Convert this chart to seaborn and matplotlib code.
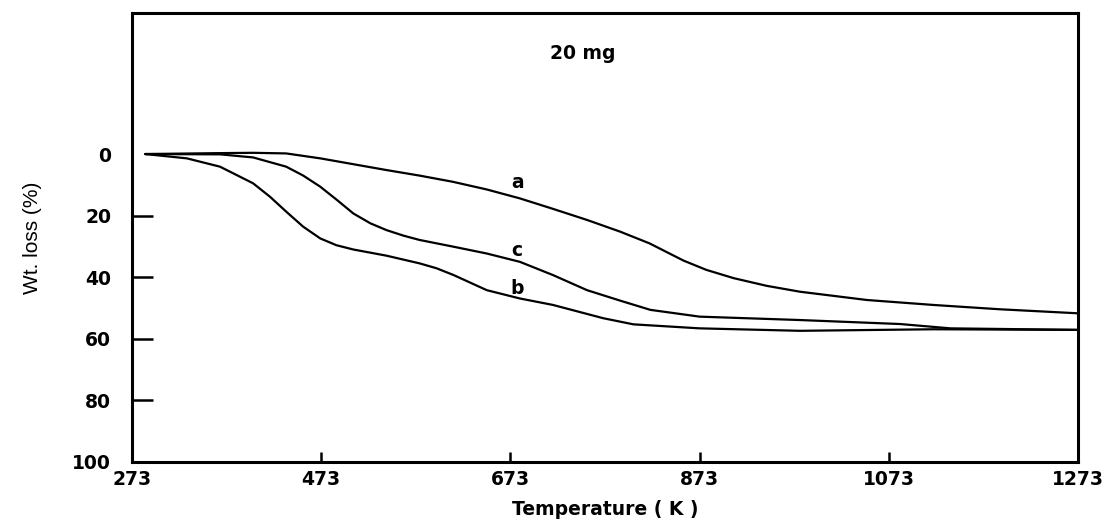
import matplotlib
matplotlib.use("Agg")
import matplotlib.pyplot as plt
import seaborn as sns
import pandas as pd

# ---- data ----
temp_a = [287, 366, 401, 436, 472, 507, 542, 577, 612, 648, 683, 718, 754, 789, 820, 838, 856, 880, 909, 944, 979, 1050, 1120, 1190, 1272]
loss_a = [0.0, -0.3, -0.4, -0.2, 1.4, 3.3, 5.2, 7.0, 9.0, 11.5, 14.4, 17.8, 21.4, 25.2, 29.0, 31.8, 34.6, 37.6, 40.3, 42.8, 44.7, 47.4, 49.0, 50.4, 51.7]

temp_c = [287, 366, 401, 436, 454, 472, 490, 507, 525, 542, 560, 577, 613, 648, 683, 718, 754, 789, 821, 873, 979, 1085, 1138, 1272]
loss_c = [0.0, 0.1, 1.1, 4.1, 7.0, 10.6, 15.0, 19.3, 22.5, 24.7, 26.5, 27.9, 30.1, 32.3, 35.0, 39.3, 44.2, 47.6, 50.6, 52.8, 53.9, 55.2, 56.6, 57.1]

temp_b = [287, 331, 366, 401, 419, 436, 454, 472, 489, 507, 542, 577, 595, 613, 648, 683, 718, 771, 803, 873, 979, 1120, 1272]
loss_b = [0.0, 1.4, 4.1, 9.5, 13.9, 18.7, 23.6, 27.4, 29.6, 31.0, 33.0, 35.5, 37.1, 39.3, 44.2, 46.9, 49.0, 53.3, 55.3, 56.6, 57.4, 56.9, 57.1]

curve_names = ["a", "b", "c"]
label_pos_T = [681, 680, 680]
label_pos_W = [9.1, 43.5, 31.2]

x_ticks = [273, 473, 673, 873, 1073, 1273]
y_ticks = [0, 20, 40, 60, 80, 100]

title_text = "20 mg"
x_label = "Temperature ( K )"
y_label = "Wt. loss (%)"

df = pd.concat([
    pd.DataFrame({"T": temp_a, "W": loss_a, "curve": "a"}),
    pd.DataFrame({"T": temp_b, "W": loss_b, "curve": "b"}),
    pd.DataFrame({"T": temp_c, "W": loss_c, "curve": "c"}),
], ignore_index=True)

sns.set_style("white")
plt.rcParams["font.family"] = ["DejaVu Sans"]
plt.rcParams["text.color"] = "black"
plt.rcParams["axes.labelcolor"] = "black"
plt.rcParams["xtick.color"] = "black"
plt.rcParams["ytick.color"] = "black"

fig = plt.figure(figsize=(11.2, 5.24), dpi=100)
ax = fig.add_axes([132 / 1120, (524 - 462) / 524, (1078 - 132) / 1120, (462 - 13) / 524])

sns.lineplot(data=df, x="T", y="W", units="curve", estimator=None,
             color="black", linewidth=1.6, ax=ax, legend=False)

ax.set_xlim(273, 1273)
ax.set_ylim(100, -45.8)

ax.set_xticks(x_ticks)
ax.set_xticklabels([str(t) for t in x_ticks])
ax.set_yticks(y_ticks)
ax.set_yticklabels([str(t) for t in y_ticks])

ax.tick_params(axis="y", direction="in", length=15, width=1.8, pad=15,
               labelsize=13.5, left=True, colors="black")
ax.tick_params(axis="x", direction="in", length=7, width=1.8, pad=6,
               labelsize=13.5, bottom=True, colors="black")
for lab in ax.get_xticklabels() + ax.get_yticklabels():
    lab.set_fontweight("bold")

for i in (0, len(y_ticks) - 1):
    ax.yaxis.get_major_ticks()[i].tick1line.set_visible(False)
for i in (0, len(x_ticks) - 1):
    ax.xaxis.get_major_ticks()[i].tick1line.set_visible(False)

for sp in ax.spines.values():
    sp.set_visible(True)
    sp.set_color("black")
    sp.set_linewidth(2.2)

ax.set_xlabel(x_label, fontsize=13.5, fontweight="bold", labelpad=8, color="black")
ax.set_ylabel(y_label, fontsize=15, color="black",
              family=["Liberation Sans Narrow", "Liberation Sans", "DejaVu Sans"], labelpad=22)

for name, tx, wy in zip(curve_names, label_pos_T, label_pos_W):
    ax.text(tx, wy, name, fontsize=13.5, fontweight="bold", ha="center", va="center", color="black")

ax.text(750, -32.8, title_text, fontsize=13.5, fontweight="bold", ha="center", va="center", color="black")

fig.savefig("out.png", dpi=100)
